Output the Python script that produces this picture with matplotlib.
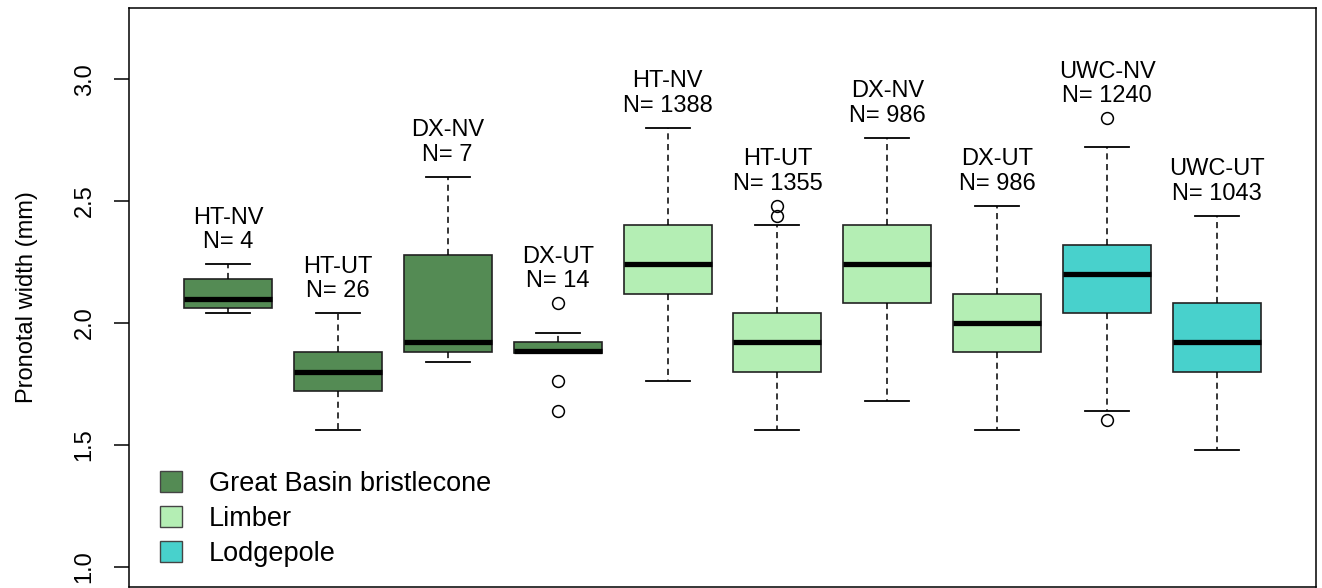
import matplotlib
matplotlib.use("Agg")
import matplotlib.pyplot as plt
from matplotlib.patches import Patch

plt.rcParams['font.family'] = ['Liberation Sans', 'DejaVu Sans']

sites = ["HT-NV", "HT-UT", "DX-NV", "DX-UT", "HT-NV", "HT-UT", "DX-NV", "DX-UT", "UWC-NV", "UWC-UT"]
counts = [4, 26, 7, 14, 1388, 1355, 986, 986, 1240, 1043]
species = ["Great Basin bristlecone"] * 4 + ["Limber"] * 4 + ["Lodgepole"] * 2
whislo = [2.04, 1.56, 1.84, 1.88, 1.76, 1.56, 1.68, 1.56, 1.64, 1.48]
q1 = [2.06, 1.72, 1.88, 1.877, 2.12, 1.80, 2.08, 1.88, 2.04, 1.80]
med = [2.10, 1.80, 1.92, 1.884, 2.24, 1.92, 2.24, 2.00, 2.20, 1.92]
q3 = [2.18, 1.88, 2.28, 1.92, 2.40, 2.04, 2.40, 2.12, 2.32, 2.08]
whishi = [2.24, 2.04, 2.60, 1.96, 2.80, 2.40, 2.76, 2.48, 2.72, 2.44]
fliers = [[], [], [], [2.08, 1.76, 1.64], [], [2.48, 2.44], [], [], [2.84, 1.60], []]

species_colors = {"Great Basin bristlecone": "#548B54", "Limber": "#B4EEB4", "Lodgepole": "#48D1CC"}

fig = plt.figure(figsize=(13.22, 5.88), dpi=100)
ax = fig.add_axes([129/1322, 1 - 587/588, (1316 - 129)/1322, (587 - 8)/588])

stats = []
for i in range(len(sites)):
    stats.append(dict(med=med[i], q1=q1[i], q3=q3[i], whislo=whislo[i], whishi=whishi[i], fliers=fliers[i]))

positions = list(range(1, len(sites) + 1))
bp = ax.bxp(stats, positions=positions, widths=0.8, patch_artist=True, showfliers=True,
            boxprops=dict(edgecolor="#222222", linewidth=1.2),
            medianprops=dict(color="black", linewidth=3.8, solid_capstyle="butt"),
            whiskerprops=dict(color="black", linewidth=1.1, linestyle=(0, (4, 3))),
            capprops=dict(color="black", linewidth=1.3),
            flierprops=dict(marker="o", markerfacecolor="none", markeredgecolor="black",
                            markersize=8.5, markeredgewidth=1.1),
            capwidths=0.4)
for patch, sp in zip(bp["boxes"], species):
    patch.set_facecolor(species_colors[sp])

for i, (s, n) in enumerate(zip(sites, counts)):
    top = max([whishi[i]] + fliers[i])
    ax.annotate(f"{s}\nN= {n}", xy=(positions[i], top), xytext=(0, 8), textcoords="offset points",
                ha="center", va="bottom", fontsize=17, linespacing=1.15)

ax.set_xlim(0.1, 10.9)
ax.set_ylim(0.917, 3.292)
ax.set_xticks([])
ax.set_yticks([1.0, 1.5, 2.0, 2.5, 3.0])
ax.set_yticklabels(["1.0", "1.5", "2.0", "2.5", "3.0"], rotation=90, va="center")
ax.tick_params(axis="y", length=11, width=1.1, labelsize=17, pad=13)
ax.set_ylabel("Pronotal width (mm)", fontsize=17, labelpad=26)
for sp in ax.spines.values():
    sp.set_linewidth(1.1)

handles = [Patch(facecolor=species_colors[k], edgecolor="#444444", linewidth=1.0) for k in species_colors]
ax.legend(handles, list(species_colors.keys()), loc="lower left", bbox_to_anchor=(0.0093, 0.0),
          frameon=False, fontsize=19.5, handlelength=0.8, handleheight=0.8, handletextpad=1.0,
          labelspacing=0.33, borderaxespad=0.35, borderpad=0.4)

fig.savefig("out.png", dpi=100)
